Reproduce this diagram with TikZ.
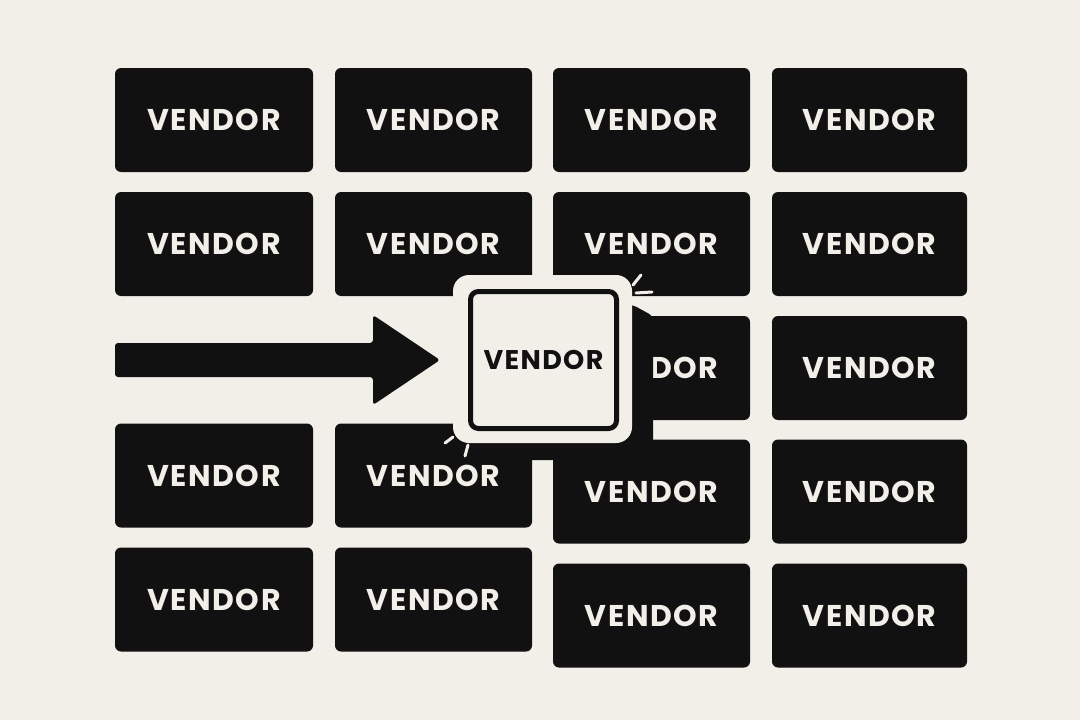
\documentclass[tikz,border=0pt]{standalone}
\usepackage{fontspec}
\setmainfont{Poppins}
\newfontfamily\vfont{Poppins}[LetterSpace=5.0]
\usetikzlibrary{calc}
\definecolor{bg}{HTML}{F2EFE9}
\definecolor{ink}{HTML}{111111}
\begin{document}
\begin{tikzpicture}[x=1pt,y=-1pt,
  vbox/.style={fill=ink, rounded corners=6pt, inner sep=0pt, text=bg,
    minimum height=104pt, font=\vfont\bfseries\fontsize{30}{30}\selectfont},
  colA/.style={minimum width=198pt},
  colB/.style={minimum width=197pt},
  colC/.style={minimum width=197pt},
  colD/.style={minimum width=195pt},
  spark/.style={draw=bg, line width=3pt, line cap=round},
]
\fill[bg] (0,0) rectangle (1080,720);
\useasboundingbox (0,0) rectangle (1080,720);

% column 1
\node[vbox,colA] (v11) at (214,120)   {VENDOR};
\node[vbox,colA] (v12) at (214,244)   {VENDOR};
\node[vbox,colA] (v14) at (214,475.5) {VENDOR};
\node[vbox,colA] (v15) at (214,599.5) {VENDOR};
% column 2
\node[vbox,colB] (v21) at (433.5,120)   {VENDOR};
\node[vbox,colB] (v22) at (433.5,244)   {VENDOR};
\node[vbox,colB] (v24) at (433.5,475.5) {VENDOR};
\node[vbox,colB] (v25) at (433.5,599.5) {VENDOR};
% column 3
\node[vbox,colC] (v31) at (651.5,120)   {VENDOR};
\node[vbox,colC] (v32) at (651.5,244)   {VENDOR};
\node[vbox,colC] (v33) at (651.5,368)   {VENDOR};
\node[vbox,colC] (v34) at (651.5,491.5) {VENDOR};
\node[vbox,colC] (v35) at (651.5,615.5) {VENDOR};
% column 4
\node[vbox,colD] (v41) at (869.5,120)   {VENDOR};
\node[vbox,colD] (v42) at (869.5,244)   {VENDOR};
\node[vbox,colD] (v43) at (869.5,368)   {VENDOR};
\node[vbox,colD] (v44) at (869.5,491.5) {VENDOR};
\node[vbox,colD] (v45) at (869.5,615.5) {VENDOR};

% arrow
\coordinate (arrowtail) at (115,360);
\coordinate (arrowtip) at (440,360);
\fill[ink, rounded corners=3pt]
  (arrowtail) ++(0,-17) -- ($(arrowtip)+(-67,-17)$) -- ($(arrowtip)+(-67,-45)$)
  -- (arrowtip) -- ($(arrowtip)+(-67,45)$) -- ($(arrowtip)+(-67,17)$)
  -- ($(arrowtail)+(0,17)$) -- cycle;

% backing plate
\fill[ink, rounded corners=4pt] (470,305) -- (633,305) -- (653,316) -- (653,460) -- (470,460) -- cycle;

% cream halo
\node[fill=bg, rounded corners=16pt, minimum width=179pt, minimum height=168pt, inner sep=0pt] (halo) at (542.5,359) {};

% sparks
\draw[spark] (633,285) -- (641,275);
\draw[spark] (636,293) -- (652,292);
\draw[spark] (453,437) -- (445,443);
\draw[spark] (468,445) -- (465,456);

% highlighted vendor
\node[draw=ink, line width=5pt, fill=bg, rounded corners=8pt, minimum width=146pt, minimum height=137pt,
  inner sep=0pt, text=ink, font=\vfont\bfseries\fontsize{27}{27}\selectfont] (hl) at (543.5,360) {VENDOR};
\end{tikzpicture}
\end{document}
